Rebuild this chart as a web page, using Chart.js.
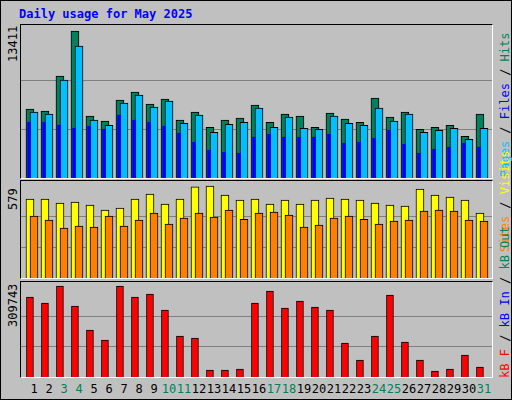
<!DOCTYPE html>
<html><head><meta charset="utf-8">
<script src="https://cdn.jsdelivr.net/npm/chart.js@4"></script>
<style>
body{margin:0;background:#fff}
#wrap{position:relative;width:510px;height:398px;background:#c0c0c0;border:1px solid #000;font-family:"DejaVu Sans Mono",monospace}
.panel{position:absolute;left:19px;width:471px;border-top:1px solid #000;border-left:1px solid #000;border-right:1px solid #fff;border-bottom:1px solid #fff}
.panel canvas{display:block}
.t{position:absolute;font-size:12px;white-space:nowrap}
.rot{transform:rotate(-90deg);transform-origin:left top}
#title{left:18px;top:6px;color:#0000ff;font-weight:bold;font-size:12px}
.day{position:absolute;top:381px;font-size:12px;width:20px;text-align:center}
</style></head>
<body>
<div id="wrap">
  <div id="title" class="t">Daily usage for May 2025</div>
  <div class="panel" style="top:23px;height:153px"><canvas id="c1" width="471" height="153"></canvas></div>
  <div class="panel" style="top:179px;height:97px"><canvas id="c2" width="471" height="97"></canvas></div>
  <div class="panel" style="top:280px;height:95px"><canvas id="c3" width="471" height="95"></canvas></div>
  <div class="t rot" style="left:5px;top:61px">13411</div>
  <div class="t rot" style="left:5px;top:209px">579</div>
  <div class="t rot" style="left:5px;top:326px">309743</div>
  <div class="t rot" style="left:497px;top:176px"><span style="color:#00c0ff">Pages</span> / <span style="color:#0000ff">Files</span> / <span style="color:#00805c">Hits</span></div>
  <div class="t rot" style="left:497px;top:251px"><span style="color:#ff8000">Sites</span> / <span style="color:#ffff00">Visits</span></div>
  <div class="t rot" style="left:497px;top:377px"><span style="color:#ff0000">kB F</span> / <span style="color:#0000ff">kB In</span> / <span style="color:#00805c">kB Out</span></div>
  <div id="days"></div>
</div>
<script>
const days = Array.from({length: 31}, (_, i) => i + 1);
const weekends = [3, 4, 10, 11, 17, 18, 24, 25, 31];
const hits = [6279,6096,9296,13411,5639,5182,7102,7833,6736,7193,5273,6005,4633,5273,5456,6645,5090,5822,5639,4633,5913,5364,5090,7285,5547,6005,4450,4633,4816,3810,5822];
const files = [6005,5822,8931,12040,5273,4816,6828,7559,6462,7010,4999,5730,4176,4907,5090,6370,4633,5547,4542,4450,5639,4999,4816,6370,5182,5822,4176,4359,4542,3536,4542];
const pages = [5090,5090,4816,4542,4724,4450,5730,5273,5090,4724,4084,3261,2530,2347,2256,3719,3993,3719,3719,3719,3993,3170,3261,3627,4359,3078,2256,2621,2804,3170,2804];
const visits = [497,497,472,478,459,427,440,497,528,465,497,573,579,522,490,497,465,490,465,490,503,497,490,472,459,453,560,522,509,490,408];
const sites = [389,364,314,326,320,389,326,364,408,339,377,408,383,427,370,408,415,396,320,333,377,389,370,339,358,364,421,427,421,364,358];
const kbytes = [272304,251881,309743,241670,159979,125941,309743,272304,282515,228055,139556,132748,23827,23827,27230,251881,292727,234862,258689,238266,228055,115729,57865,139556,279112,119133,57865,20423,27230,74884,34038];
const maxTicks = [13411, 579, 309743];

const daysEl = document.getElementById("days");
days.forEach(d => {
    const el = document.createElement("div");
    el.className = "day";
    el.style.left = (33 + 15 * (d - 1) - 10) + "px";
    el.style.color = weekends.includes(d) ? "#00805c" : "#000";
    el.textContent = d;
    daysEl.appendChild(el);
});

function ds(values, offset, color, width) {
    return {
        data: days.map((d, i) => ({x: d + offset, y: values[i]})),
        backgroundColor: color,
        borderColor: "#000",
        borderWidth: width > 4 ? 1 : 0,
        barThickness: width,
        grouped: false
    };
}

function panel(id, datasets, max, topMax) {
    new Chart(document.getElementById(id), {
        type: "bar",
        data: {datasets},
        options: {
            responsive: false,
            animation: false,
            events: [],
            layout: {padding: 0},
            plugins: {legend: {display: false}, tooltip: {enabled: false}},
            scales: {
                x: {type: "linear", min: 0.1333, max: 31.533, offset: false, display: false},
                y: {
                    min: 0, max: max,
                    afterBuildTicks: s => { s.ticks = [{value: topMax / 3}, {value: topMax * 2 / 3}]; },
                    ticks: {display: false},
                    border: {display: false},
                    grid: {color: "#808080", drawTicks: false, lineWidth: 1}
                }
            }
        }
    });
}

panel("c1", [
    ds(pages, -0.33, "#0000ff", 3),
    ds(files, 0, "#00c0ff", 8),
    ds(hits, -0.27, "#00805c", 8)
], 13411 * 153 / 147, maxTicks[0]);
panel("c2", [
    ds(sites, 0, "#ff8000", 8),
    ds(visits, -0.27, "#ffff00", 8)
], 579 * 97 / 92, maxTicks[1]);
panel("c3", [
    ds(kbytes, -0.27, "#ff0000", 7)
], 309743 * 95 / 91, maxTicks[2]);
</script>
</body></html>
